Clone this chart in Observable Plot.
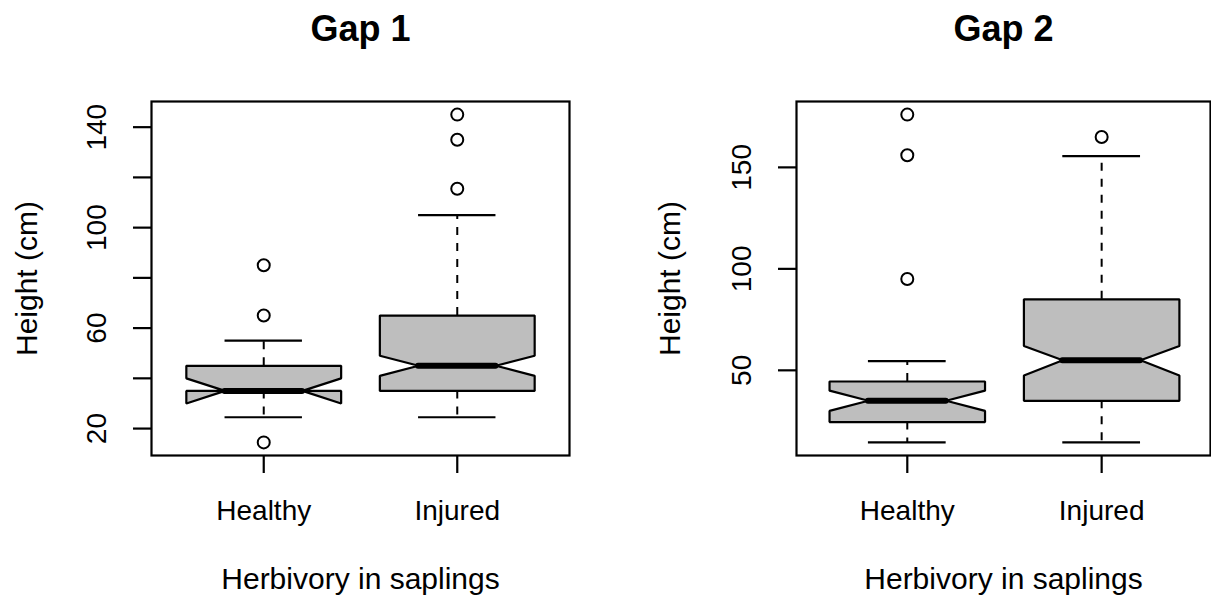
<!DOCTYPE html>
<html>
<head>
<meta charset="utf-8">
<script src="https://cdn.jsdelivr.net/npm/d3@7"></script>
<script src="https://cdn.jsdelivr.net/npm/@observablehq/plot@0.6"></script>
<style>
  html, body { margin: 0; padding: 0; background: #fff; }
  #charts { display: flex; width: 1211px; height: 601px; }
  #charts svg { display: block; }
</style>
</head>
<body>
<div id="charts"></div>
<script>
// Sapling height by herbivory status in two forest gaps (notched box plots)
const categories = ["Healthy", "Injured"];
const yLabel = "Height (cm)";
const xLabel = "Herbivory in saplings";

// Gap 1 summaries, one value per category
const gap1WhiskerLow  = [24.5, 24.5];
const gap1Q1          = [35, 35];
const gap1Median      = [35, 45];
const gap1Q3          = [45, 65];
const gap1WhiskerHigh = [55, 105];
const gap1NotchLow    = [30, 41];
const gap1NotchHigh   = [40, 49];
const gap1Outliers    = [[85, 65, 14.5], [145, 135, 115.5]];
const gap1Ticks       = [20, 40, 60, 80, 100, 120, 140];
const gap1TickLabels  = [20, 60, 100, 140];

// Gap 2 summaries
const gap2WhiskerLow  = [14.5, 14.5];
const gap2Q1          = [24.5, 35];
const gap2Median      = [35, 55];
const gap2Q3          = [44.5, 85];
const gap2WhiskerHigh = [54.5, 155.5];
const gap2NotchLow    = [30, 47.5];
const gap2NotchHigh   = [40, 62];
const gap2Outliers    = [[95, 156, 176], [165]];
const gap2Ticks       = [50, 100, 150];
const gap2TickLabels  = [50, 100, 150];

const FONT = "'Liberation Sans', Arial, Helvetica, sans-serif";

function boxPanel(g) {
  const w = 0.4;        // half box width (category units)
  const nf = 0.5;       // notch depth as a fraction of the half width
  const sw = 0.2;       // half staple width
  const boxes = categories.map((c, i) => ({
    c, p: i + 1,
    lo: g.whiskerLow[i], q1: g.q1[i], med: g.median[i], q3: g.q3[i], hi: g.whiskerHigh[i],
    nlo: g.notchLow[i], nhi: g.notchHigh[i]
  }));
  // notched outline, traced as a closed polygon
  const outline = boxes.flatMap(b => [
    [b.p - w, b.q1], [b.p + w, b.q1], [b.p + w, b.nlo], [b.p + w * nf, b.med],
    [b.p + w, b.nhi], [b.p + w, b.q3], [b.p - w, b.q3], [b.p - w, b.nhi],
    [b.p - w * nf, b.med], [b.p - w, b.nlo]
  ].map(([x, y]) => ({x, y, c: b.c})));
  const outliers = boxes.flatMap((b, i) => g.outliers[i].map(v => ({p: b.p, v})));
  const [mn, mx] = d3.extent([...g.whiskerLow, ...g.whiskerHigh, ...g.outliers.flat()]);
  const pad = 0.04 * (mx - mn);

  return Plot.plot({
    width: g.width,
    height: 601,
    marginTop: 101,
    marginBottom: 146,
    marginLeft: g.marginLeft,
    marginRight: g.marginRight,
    style: {fontFamily: FONT, background: "white", color: "black", overflow: "visible"},
    x: {domain: g.xDomain, axis: null},
    y: {domain: [mn - pad, mx + pad], axis: null},
    marks: [
      // whiskers
      Plot.ruleX(boxes, {x: "p", y1: "q3", y2: "hi", stroke: "black", strokeWidth: 2, strokeDasharray: "8,8"}),
      Plot.ruleX(boxes, {x: "p", y1: "q1", y2: "lo", stroke: "black", strokeWidth: 2, strokeDasharray: "8,8"}),
      // boxes
      Plot.line(outline, {x: "x", y: "y", z: "c", curve: "linear-closed", fill: "#bebebe", stroke: "black", strokeWidth: 2.2, strokeLinejoin: "miter"}),
      // staples
      Plot.ruleY(boxes, {y: "hi", x1: d => d.p - sw, x2: d => d.p + sw, stroke: "black", strokeWidth: 2.2}),
      Plot.ruleY(boxes, {y: "lo", x1: d => d.p - sw, x2: d => d.p + sw, stroke: "black", strokeWidth: 2.2}),
      // medians
      Plot.ruleY(boxes, {y: "med", x1: d => d.p - w * nf, x2: d => d.p + w * nf, stroke: "black", strokeWidth: 6, strokeLinecap: "round"}),
      // outliers
      Plot.dot(outliers, {x: "p", y: "v", r: 6, stroke: "black", strokeWidth: 2, fill: "white"}),
      Plot.frame({stroke: "black", strokeWidth: 2.2}),
      Plot.axisY({
        ticks: g.ticks,
        tickFormat: d => g.tickLabels.includes(d) ? String(d) : "",
        tickSize: 18, tickPadding: 36, tickRotate: -90,
        textAnchor: "middle", lineAnchor: "middle",
        fontSize: 28, strokeWidth: 2.2, label: null
      }),
      Plot.axisX({
        ticks: categories.map((c, i) => i + 1),
        tickFormat: i => categories[i - 1],
        tickSize: 18, tickPadding: 27,
        fontSize: 28, strokeWidth: 2.2, label: null
      }),
      Plot.text([g.title], {
        text: d => d, frameAnchor: "top", dy: -72,
        textAnchor: "middle", lineAnchor: "middle", fontSize: 36, fontWeight: "bold"
      }),
      Plot.text([yLabel], {
        text: d => d, frameAnchor: "left", dx: g.yLabelDx, rotate: -90,
        textAnchor: "middle", lineAnchor: "middle", fontSize: 30
      }),
      Plot.text([xLabel], {
        text: d => d, frameAnchor: "bottom", dy: 124,
        textAnchor: "middle", lineAnchor: "middle", fontSize: 30
      })
    ]
  });
}

const root = document.getElementById("charts");
root.append(boxPanel({
  title: "Gap 1", width: 605, marginLeft: 151, marginRight: 36, xDomain: [0.42, 2.58], yLabelDx: -124,
  whiskerLow: gap1WhiskerLow, q1: gap1Q1, median: gap1Median, q3: gap1Q3, whiskerHigh: gap1WhiskerHigh,
  notchLow: gap1NotchLow, notchHigh: gap1NotchHigh, outliers: gap1Outliers,
  ticks: gap1Ticks, tickLabels: gap1TickLabels
}));
root.append(boxPanel({
  title: "Gap 2", width: 606, marginLeft: 191, marginRight: 1, xDomain: [0.43, 2.56], yLabelDx: -126,
  whiskerLow: gap2WhiskerLow, q1: gap2Q1, median: gap2Median, q3: gap2Q3, whiskerHigh: gap2WhiskerHigh,
  notchLow: gap2NotchLow, notchHigh: gap2NotchHigh, outliers: gap2Outliers,
  ticks: gap2Ticks, tickLabels: gap2TickLabels
}));
</script>
</body>
</html>
